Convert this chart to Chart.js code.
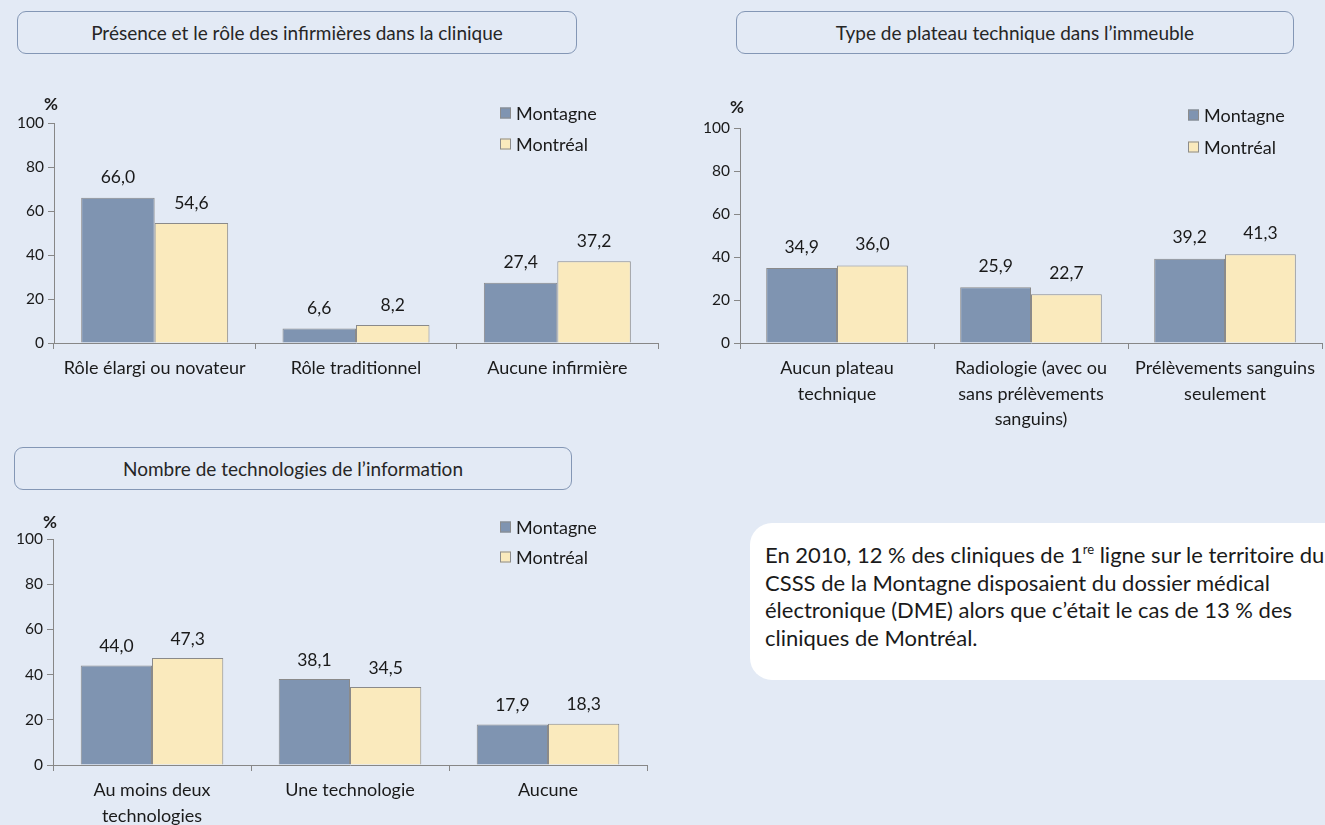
<!DOCTYPE html>
<html><head><meta charset="utf-8">
<script src="https://cdn.jsdelivr.net/npm/chart.js@4.4.0/dist/chart.umd.min.js"></script>
<style>
html,body{margin:0;padding:0;width:1325px;height:825px;overflow:hidden;background:#E3EAF5;font-family:Lato,'Open Sans',sans-serif;}
.box{position:absolute;border:1px solid #8497b5;border-radius:9px;box-sizing:border-box;display:flex;align-items:center;justify-content:center;font-size:19px;color:#262626;}
canvas{position:absolute;}
#note{position:absolute;left:750px;top:523px;width:620px;height:157px;background:#fff;border-radius:22px;box-sizing:border-box;padding:18px 0 0 15px;font-size:22px;line-height:27.5px;color:#1a1a1a;white-space:nowrap;}
#note sup{font-size:13px;line-height:0;vertical-align:9px;}
</style></head>
<body>
<div class="box" style="left:17px;top:11px;width:560px;height:43px">Présence et le rôle des infirmières dans la clinique</div>
<div class="box" style="left:736px;top:11px;width:558px;height:43px">Type de plateau technique dans l’immeuble</div>
<div class="box" style="left:14px;top:447px;width:558px;height:43px">Nombre de technologies de l’information</div>
<div id="note">En 2010, 12 % des cliniques de 1<sup>re</sup> ligne sur le territoire du<br>CSSS de la Montagne disposaient du dossier médical<br>électronique (DME) alors que c’était le cas de 13 % des<br>cliniques de Montréal.</div>
<canvas id="c1" width="680" height="330" style="left:0;top:90px"></canvas>
<canvas id="c2" width="645" height="350" style="left:680px;top:90px"></canvas>
<canvas id="c3" width="680" height="330" style="left:0;top:500px"></canvas>
<script>
// ---- data ----
const seriesNames = ['Montagne', 'Montréal'];
const cat1 = ['Rôle élargi ou novateur', 'Rôle traditionnel', 'Aucune infirmière'];
const montagne1 = [66.0, 6.6, 27.4];
const montreal1 = [54.6, 8.2, 37.2];
const cat2 = [['Aucun plateau', 'technique'], ['Radiologie (avec ou', 'sans prélèvements', 'sanguins)'], ['Prélèvements sanguins', 'seulement']];
const montagne2 = [34.9, 25.9, 39.2];
const montreal2 = [36.0, 22.7, 41.3];
const cat3 = [['Au moins deux', 'technologies'], 'Une technologie', 'Aucune'];
const montagne3 = [44.0, 38.1, 17.9];
const montreal3 = [47.3, 34.5, 18.3];
const yMin = 0, yMax = 100, yStep = 20;

// ---- styles ----
const colors = ['#7F94B1', '#FAEABD'];
const axisColor = '#878787';
const textColor = '#1a1a1a';
const FONT = 'Lato';
Chart.defaults.font.family = FONT;
Chart.defaults.color = textColor;

const fmt = v => v.toFixed(1).replace('.', ',');

const overlay = {
  id: 'overlay',
  afterDatasetsDraw(chart, args, o) {
    const ctx = chart.ctx;
    ctx.save();
    ctx.fillStyle = textColor;
    ctx.font = '17.5px ' + FONT;
    ctx.textAlign = 'center';
    ctx.textBaseline = 'middle';
    chart.data.datasets.forEach((ds, i) => {
      chart.getDatasetMeta(i).data.forEach((el, j) => {
        ctx.fillText(fmt(ds.data[j]), el.x, el.y - o.gap);
      });
    });
    const ca = chart.chartArea;
    ctx.font = 'bold 17px ' + FONT;
    ctx.fillText('%', ca.left - 3, ca.top - o.pctUp);
    // legend
    ctx.textAlign = 'left';
    ctx.font = '18px ' + FONT;
    chart.data.datasets.forEach((ds, i) => {
      const y = o.ly + i * o.lstep;
      ctx.fillStyle = ds.backgroundColor;
      ctx.fillRect(o.lx, y - 5.5, 11, 11);
      ctx.strokeStyle = '#8c8c8c';
      ctx.lineWidth = 1;
      ctx.strokeRect(o.lx + 0.5, y - 5, 10, 10);
      ctx.fillStyle = textColor;
      ctx.fillText(ds.label, o.lx + 16, y + 1);
    });
    ctx.restore();
  }
};

function makeChart(id, cats, a, b, c) {
  return new Chart(document.getElementById(id), {
    type: 'bar',
    data: {
      labels: cats,
      datasets: [
        { label: seriesNames[0], data: a, backgroundColor: colors[0], borderColor: '#8a8a8a', borderWidth: 1 },
        { label: seriesNames[1], data: b, backgroundColor: colors[1], borderColor: '#8a8a8a', borderWidth: 1 }
      ]
    },
    options: {
      responsive: false,
      animation: false,
      events: [],
      datasets: { bar: { categoryPercentage: c.cp, barPercentage: 1 } },
      layout: { padding: { top: c.top, right: c.right, bottom: c.bottom, left: 0 } },
      plugins: {
        legend: { display: false },
        tooltip: { enabled: false },
        overlay: { gap: c.gap, pctUp: c.pctUp, lx: c.lx, ly: c.ly, lstep: c.lstep }
      },
      scales: {
        x: {
          grid: { drawOnChartArea: false, color: axisColor, tickLength: 6, offset: true },
          border: { color: axisColor },
          ticks: { font: { size: 18, lineHeight: 1.4 }, color: textColor, padding: 7, autoSkip: false, maxRotation: 0 },
          afterFit(s) { s.height = c.xh; }
        },
        y: {
          min: yMin, max: yMax,
          grid: { drawOnChartArea: false, color: axisColor, tickLength: 6 },
          border: { color: axisColor },
          ticks: { stepSize: yStep, font: { size: 15.5 }, color: textColor, padding: 4 },
          afterFit(s) { s.width = c.yw; }
        }
      }
    },
    plugins: [overlay]
  });
}

makeChart('c1', cat1, montagne1, montreal1, { cp: 0.73, top: 33, right: 22, bottom: 17, xh: 60, yw: 54, gap: 20, pctUp: 18, lx: 500, ly: 23, lstep: 31 });
makeChart('c2', cat2, montagne2, montreal2, { cp: 0.73, top: 38, right: 3, bottom: 7, xh: 90, yw: 60, gap: 21, pctUp: 20, lx: 508, ly: 25, lstep: 32 });
makeChart('c3', cat3, montagne3, montreal3, { cp: 0.72, top: 39, right: 33, bottom: 0, xh: 65, yw: 53, gap: 19, pctUp: 16, lx: 500, ly: 27, lstep: 30 });
</script>
</body></html>
